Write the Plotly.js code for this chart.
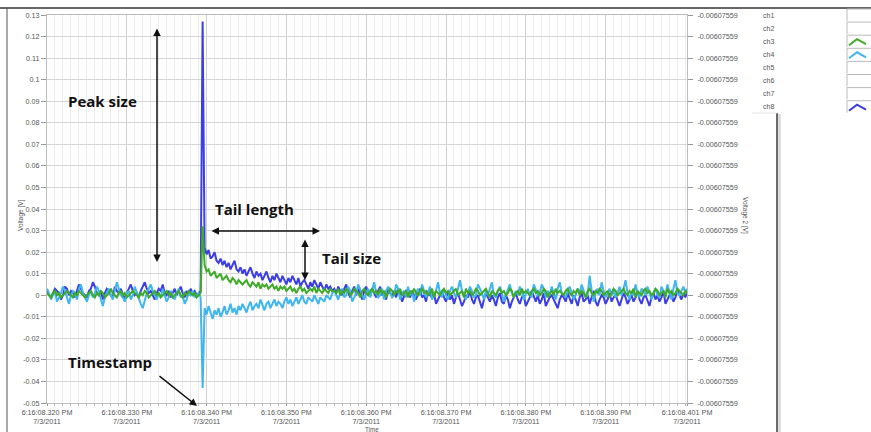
<!DOCTYPE html>
<html><head><meta charset="utf-8">
<script src="https://cdn.plot.ly/plotly-3.0.1.min.js"></script>
<style>html,body{margin:0;padding:0;background:#fff;overflow:hidden}#chart{width:871px;height:432px}</style>
</head><body><div id="chart"></div>
<script>
// Sample times: milliseconds after 6:16:08 PM, one sample every 0.25 ms
const T0_MS = 320;
const DT_MS = 0.25;

// ch8 (blue) in mV
const ch8 = [
 2,0,-1,1,3,2,1,-2,0,4,3,0,2,1,-1,2,5,3,1,0,
 -1,2,3,6,4,1,0,2,-2,1,3,2,0,-1,4,2,1,3,0,-2,
 1,3,5,2,0,1,-1,2,4,6,3,1,2,0,-2,1,3,2,5,1,
 0,2,-1,1,3,0,2,4,1,-1,2,0,3,1,2,0,1,2,
 127,
 22,19,21,17,18,20,16,15,17,14,16,13,15,12,14,16,12,11,13,10,
 12,9,11,13,10,8,11,9,10,7,9,11,8,6,9,7,10,8,6,9,
 7,5,8,6,9,7,5,8,4,6,7,5,3,6,4,7,5,3,6,4,
 2,5,3,4,2,
 3,1,4,2,0,3,5,1,-1,2,4,0,3,1,-2,2,4,1,0,3,
 1,-1,2,4,0,1,-2,3,1,0,2,-1,3,1,-3,0,2,1,-1,2,
 0,-2,1,3,-1,0,-3,2,0,-1,1,-4,-2,0,2,-1,-3,1,-2,0,
 -4,-1,1,-2,-5,-3,0,-1,2,-2,-4,-1,0,-3,-6,-2,1,-1,-3,0,
 -2,-5,-1,1,-3,-4,0,-2,-6,-3,-1,1,-2,-4,-1,0,-5,-3,-1,2,
 -1,-3,0,-4,-2,1,-5,-3,-1,0,-2,-4,-6,-2,0,-1,-3,1,-2,-4,
 0,-2,-5,-1,1,-3,-2,0,-4,-1,2,-3,-5,-2,0,-1,-4,-2,1,-3,
 -1,0,-3,-5,-2,1,-1,-4,-2,0,-3,-1,2,-2,-4,-1,0,-3,-5,-1,
 1,-2,0,-3,-1,2,-4,-2,0,1,-3,-1,3,0,-2,1,-1,2
];
// ch3 (green) in mV
const ch3 = [
 1,0,-1,1,2,0,1,-1,0,1,2,1,0,-1,1,0,2,1,0,-1,
 0,1,2,0,-1,1,0,2,1,-1,0,1,3,1,0,-1,1,2,0,1,
 -1,0,1,2,1,0,-1,1,0,2,1,-1,0,1,2,0,1,-1,0,1,
 2,0,1,-1,0,1,2,0,-1,1,0,2,1,0,1,-1,0,1,
 32,
 14,11,12,9,10,11,8,9,10,7,8,9,7,6,8,7,5,7,6,5,
 6,7,5,4,6,5,4,6,3,5,4,5,3,4,5,3,4,2,4,3,
 4,2,3,4,2,3,1,3,4,2,3,1,2,3,2,4,1,3,2,1,
 3,2,1,3,2,
 2,1,3,0,2,1,3,2,0,1,3,2,1,-1,2,3,1,0,2,3,
 1,2,0,3,1,2,-1,1,3,2,0,2,1,3,0,1,2,-1,2,1,
 3,1,0,2,3,1,2,0,1,3,-1,2,1,0,2,3,1,2,0,1,
 2,3,0,1,2,-1,3,1,2,0,1,3,2,0,1,2,3,1,-1,2,
 1,0,2,3,1,2,0,1,3,2,-1,1,2,0,3,1,2,1,0,2,
 3,1,2,0,1,3,2,-1,1,2,0,3,1,2,1,0,2,3,1,0,
 2,1,3,0,2,1,-1,2,3,1,0,2,1,3,2,0,1,2,-1,1,
 3,2,0,1,2,3,1,0,2,1,3,-1,2,1,0,2,3,1,2,0,
 1,3,2,0,1,2,-1,3,1,2,0,1,3,2,1,0,2,1
];
// ch4 (light blue) in mV
const ch4 = [
 3,1,-2,0,2,-3,-1,1,4,2,-1,-4,0,2,1,-2,3,5,1,-1,
 -3,0,2,-1,1,4,2,-2,-5,-1,1,3,0,-2,2,6,3,0,-1,-3,
 1,2,-2,0,4,1,-1,-4,-6,-2,1,3,5,2,0,-2,1,-1,3,0,
 -3,-1,2,0,-2,1,3,-1,0,-4,-2,1,0,2,-1,0,1,-1,
 -43,
 -6,-9,-5,-8,-11,-7,-9,-6,-10,-8,-5,-9,-7,-4,-8,-6,-9,-5,-7,-4,
 -6,-8,-5,-3,-7,-5,-4,-6,-2,-5,-7,-4,-3,-6,-4,-2,-5,-3,-4,-6,
 -3,-1,-4,-2,-5,-3,-1,-4,-2,0,-3,-4,-1,-2,-3,0,-2,-4,-1,-2,
 -3,0,-1,-2,1,
 2,0,-2,1,3,-1,0,4,2,-3,-1,1,5,2,0,-2,1,3,-1,2,
 6,1,-1,0,3,-2,2,4,1,-1,0,5,3,-2,1,2,-1,4,0,2,
 -3,1,3,0,5,2,-1,1,4,-2,0,2,6,1,-1,3,0,-2,2,4,
 1,-1,3,7,2,0,-2,1,4,2,-1,0,5,3,1,-2,2,0,3,6,
 0,-1,2,4,1,-3,0,3,5,1,-1,2,0,4,2,-2,1,3,0,-1,
 5,2,0,1,5,3,-1,2,0,4,1,-2,3,6,1,0,-1,2,4,1,
 -2,0,3,1,5,2,-1,0,9,2,-3,1,3,0,6,2,-1,1,3,0,
 2,-1,1,4,0,3,7,1,-2,2,0,5,1,-1,3,2,0,4,1,-2,
 1,3,0,-1,4,2,0,5,1,-2,3,7,1,0,2,4,1,3
];

const xTickVals = [320,330,340,350,360,370,380,390,400.2];
const xTickText = ['6:16:08.320 PM','6:16:08.330 PM','6:16:08.340 PM','6:16:08.350 PM','6:16:08.360 PM','6:16:08.370 PM','6:16:08.380 PM','6:16:08.390 PM','6:16:08.401 PM'];
const dateText = '7/3/2011';
const yTickVals = [0.13,0.12,0.11,0.1,0.09,0.08,0.07,0.06,0.05,0.04,0.03,0.02,0.01,0,-0.01,-0.02,-0.03,-0.04,-0.05];
const yTickText = ['0.13','0.12','0.11','0.1','0.09','0.08','0.07','0.06','0.05','0.04','0.03','0.02','0.01','0','-0.01','-0.02','-0.03','-0.04','-0.05'];
const rightTickLabel = '-0.00607559';
const legendNames = ['ch1','ch2','ch3','ch4','ch5','ch6','ch7','ch8'];
const colors = {ch3:'#3faa28', ch4:'#3fb6f0', ch8:'#3b3de6'};

const times = ch8.map((_, i) => T0_MS + i * DT_MS);
const toV = a => a.map(v => v / 1000);

// pixel -> paper helpers (plot area 47..687 x 15..403)
const PL=47, PW=640, PB=403, PH=388;
const xp = px => (px - PL) / PW;
const yp = py => (PB - py) / PH;

const traces = [
  {x: times, y: toV(ch8), mode:'lines', line:{color:colors.ch8, width:2}, name:'ch8', hoverinfo:'skip'},
  {x: times, y: toV(ch4), mode:'lines', line:{color:colors.ch4, width:2}, name:'ch4', hoverinfo:'skip'},
  {x: times, y: toV(ch3), mode:'lines', line:{color:colors.ch3, width:2}, name:'ch3', hoverinfo:'skip'},
  {x: [times[0]], y:[0], yaxis:'y2', mode:'markers', marker:{opacity:0}, showlegend:false, hoverinfo:'skip'}
];

const tickFont = {family:'Liberation Sans, Arial, sans-serif', size:7.2, color:'#555'};
const labelFont = {family:'Open Sans, sans-serif', size:15, color:'#111', weight:700};

const annotations = [];
[['Peak size',66,101],['Tail length',213,209],['Tail size',320,258],['Timestamp',66,362]].forEach(a=>{
  annotations.push({xref:'paper', yref:'paper', x:xp(a[1]), y:yp(a[2]), xanchor:'left', yanchor:'middle', text:'<b>'+a[0]+'</b>', showarrow:false, font:labelFont});
});
function arrow(hx, hy, tx, ty, both){
  annotations.push({xref:'paper', yref:'paper', x:xp(hx), y:yp(hy), ax:tx-hx, ay:ty-hy, axref:'pixel', ayref:'pixel', text:'', showarrow:true, arrowhead:2, startarrowhead:2, arrowside: both?'end+start':'end', arrowsize:1, startarrowsize:1, arrowwidth:1.5, arrowcolor:'#111'});
}
arrow(157,262,157,27,true);
arrow(320,231,210,231,true);
arrow(305,280,305,238,true);
arrow(197,406,158,375,false);
annotations.push({xref:'paper', yref:'paper', x:xp(15), y:yp(215), text:'Voltage [V]', textangle:-90, showarrow:false, font:{family:'Liberation Sans, Arial', size:6.5, color:'#555'}});
annotations.push({xref:'paper', yref:'paper', x:xp(751), y:yp(215), text:'Voltage 2 [V]', textangle:90, showarrow:false, font:{family:'Liberation Sans, Arial', size:6.5, color:'#555'}});
annotations.push({xref:'paper', yref:'paper', x:xp(372), y:yp(429.5), yanchor:'middle', text:'Time', showarrow:false, font:{family:'Liberation Sans, Arial', size:6.3, color:'#555'}});

const shapes = [
  {type:'line', xref:'paper', yref:'paper', x0:xp(0), x1:xp(871), y0:yp(8), y1:yp(8), line:{color:'#333', width:1.5}},
  {type:'line', xref:'paper', yref:'paper', x0:xp(7), x1:xp(7), y0:yp(8), y1:yp(432), line:{color:'#555', width:1}},
  {type:'rect', xref:'paper', yref:'paper', x0:xp(778), x1:xp(781), y0:yp(114), y1:yp(432), line:{width:0}, fillcolor:'#dcdcdc'},
  {type:'rect', xref:'paper', yref:'paper', x0:xp(776), x1:xp(778), y0:yp(113), y1:yp(432), line:{width:0}, fillcolor:'#6a6a6a'},
  {type:'line', xref:'paper', yref:'paper', x0:xp(752), x1:xp(777), y0:yp(113), y1:yp(113), line:{color:'#e4e4e4', width:1}}
];
legendNames.forEach((n, i) => {
  const cy = 15 + i * 13.1;
  annotations.push({xref:'paper', yref:'paper', x:xp(761), y:yp(cy), xanchor:'left', yanchor:'middle', text:n, showarrow:false, font:{family:'Liberation Sans, Arial', size:7, color:'#555'}});
  shapes.push({type:'path', xref:'paper', yref:'paper', path:`M ${xp(871)} ${yp(cy-6)} L ${xp(847)} ${yp(cy-6)} L ${xp(847)} ${yp(cy+6)}`, line:{color:'#bbb', width:1}});
  if (colors[n]) {
    shapes.push({type:'path', xref:'paper', yref:'paper', path:`M ${xp(849)} ${yp(cy+4)} L ${xp(857)} ${yp(cy-2)} L ${xp(866)} ${yp(cy+3)}`, line:{color:colors[n], width:2}});
  }
});

const layout = {
  width:871, height:432,
  margin:{l:PL, r:871-PL-PW, t:15, b:29},
  paper_bgcolor:'#fff', plot_bgcolor:'#fff',
  showlegend:false,
  xaxis:{range:[320,400.2], tickmode:'array', tickvals:xTickVals, ticktext:xTickText.map(t=>t+'<br>'+dateText),
    tickfont:tickFont, ticks:'outside', ticklen:2, tickcolor:'#999', showgrid:true, gridcolor:'#cfcfcf', gridwidth:1,
    minor:{tickmode:'linear', tick0:320, dtick:1, showgrid:true, gridcolor:'#ececec', ticks:'outside', ticklen:2, tickcolor:'#bbb'},
    showline:true, linecolor:'#bbb', mirror:true, zeroline:false, fixedrange:true},
  yaxis:{range:[-0.05,0.13], tickmode:'array', tickvals:yTickVals, ticktext:yTickText, tickfont:tickFont,
    ticks:'outside', ticklen:5, tickcolor:'#999', showgrid:true, gridcolor:'#d6d6d6', zeroline:false,
    showline:true, linecolor:'#bbb', mirror:true, fixedrange:true},
  yaxis2:{range:[-0.05,0.13], overlaying:'y', side:'right', tickmode:'array', tickvals:yTickVals,
    ticktext:yTickVals.map(()=>rightTickLabel), tickfont:tickFont, ticks:'outside', ticklen:5, tickcolor:'#999',
    ticklabelstandoff:3, showgrid:false, zeroline:false, fixedrange:true},
  annotations, shapes
};
Plotly.newPlot('chart', traces, layout, {staticPlot:true, displayModeBar:false});
</script></body></html>
